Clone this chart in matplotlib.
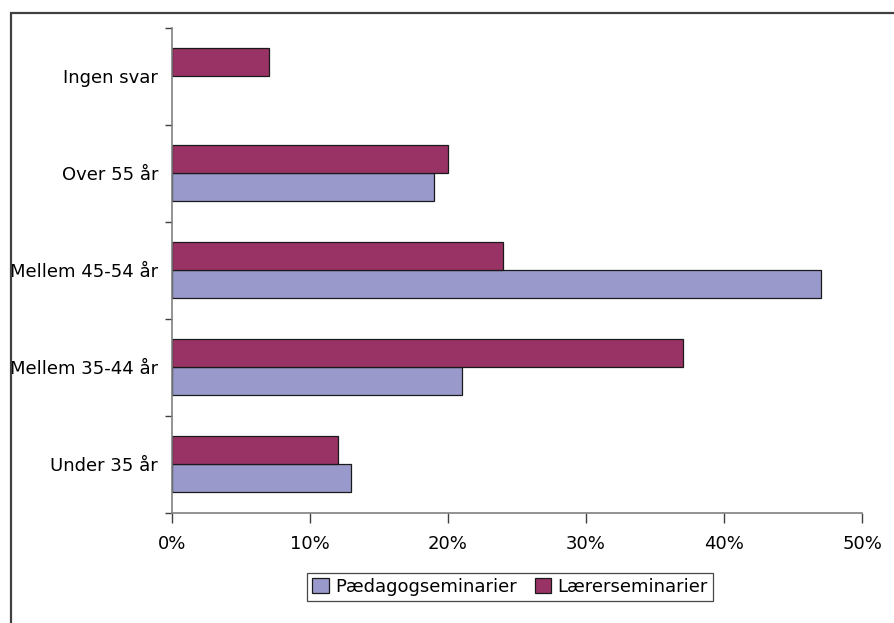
import matplotlib.pyplot as plt
import matplotlib.patches as patches
import numpy as np

categories = ["Under 35 år", "Mellem 35-44 år", "Mellem 45-54 år", "Over 55 år", "Ingen svar"]
paedagog = [13, 21, 47, 19, 0]
laerer = [12, 37, 24, 20, 7]
xticks = [0, 10, 20, 30, 40, 50]

col_paed = "#9999CC"
col_laer = "#993366"

plt.rcParams['font.family'] = ['DejaVu Sans']
fs = 13

fig = plt.figure(figsize=(8.94, 6.23), dpi=100)
ax = fig.add_axes([172 / 894, 1 - 512.5 / 623, 690 / 894, 485 / 623])

# outer chart border (only top and left visible in the original)
fig.add_artist(patches.Rectangle((10.5 / 894, -0.1), 1.2, (623 - 12.5) / 623 + 0.1,
                                 transform=fig.transFigure, fill=False,
                                 edgecolor="#404040", linewidth=1.6))

y = np.arange(len(categories))
h = 0.285
lw_p = [0.9 if v > 0 else 0 for v in paedagog]
lw_l = [0.9 if v > 0 else 0 for v in laerer]
ax.barh(y - h / 2, paedagog, height=h, color=col_paed, edgecolor="#1a1a1a",
        linewidth=lw_p, label="Pædagogseminarier")
ax.barh(y + h / 2, laerer, height=h, color=col_laer, edgecolor="#1a1a1a",
        linewidth=lw_l, label="Lærerseminarier")

ax.set_xlim(0, 50)
ax.set_ylim(-0.5, len(categories) - 0.5)
ax.set_xticks(xticks)
ax.set_xticklabels([f"{v}%" for v in xticks])
ax.set_yticks(y)
ax.set_yticklabels(categories)
ax.set_yticks(np.arange(-0.5, len(categories)), minor=True)
ax.tick_params(axis='y', which='major', length=0, pad=10, labelsize=fs)
ax.tick_params(axis='y', which='minor', length=5, color="#404040", width=1)
ax.tick_params(axis='x', length=7, color="#404040", width=1, pad=9, labelsize=fs)

for s in ["top", "right"]:
    ax.spines[s].set_visible(False)
ax.spines["left"].set_color("#808080")
ax.spines["bottom"].set_color("#808080")
ax.spines["left"].set_linewidth(1.2)
ax.spines["bottom"].set_linewidth(1.2)

leg = ax.legend(loc="center", bbox_to_anchor=(510 / 894, 1 - 587 / 623),
                bbox_transform=fig.transFigure, ncol=2, frameon=True, fancybox=False,
                edgecolor="#1a1a1a", fontsize=fs, handlelength=0.9, handleheight=0.9,
                handletextpad=0.35, columnspacing=1.0, borderpad=0.3, borderaxespad=0)
leg.get_frame().set_linewidth(0.9)

fig.savefig("out.png", dpi=100)
